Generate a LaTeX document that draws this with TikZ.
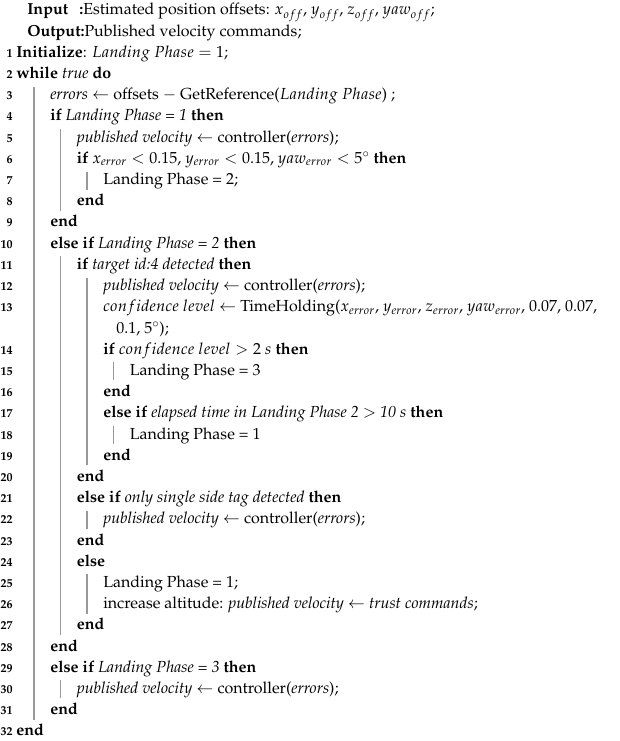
\documentclass[tikz,border=0pt]{standalone}
\usepackage[T1]{fontenc}
\usepackage{mathpazo}
\begin{document}
\begin{tikzpicture}[x=0.75pt,y=-0.75pt,
  txt/.style={anchor=base west,inner sep=0pt,font=\fontsize{12}{14}\selectfont},
  num/.style={anchor=base east,inner sep=0pt,font=\fontsize{9}{10}\selectfont\bfseries},
  bar/.style={draw=gray!80,line width=0.8pt}]
\useasboundingbox (0,0) rectangle (619,741);
\def\Y#1{11+21.2*#1+4}
% header
\node[txt] (in) at (27,{\Y{0}}) {\textbf{Input}};
\node[txt] (inc) at (79,{\Y{0}}) {\textbf{:}Estimated position offsets: $x_{off}$, $y_{off}$, $z_{off}$, $yaw_{off}$;};
\node[txt] (out) at (27,{\Y{1}}) {\textbf{Output:}Published velocity commands;};
% numbered lines: idx, level-x, number, text
\newcommand\AL[4]{\node[num] (n#3) at (13,{\Y{#1}}) {#3};\node[txt] (l#3) at (#2,{\Y{#1}}) {#4};}
\AL{2}{16}{1}{\textbf{Initialize}: $Landing\ Phase = 1$;}
\AL{3}{16}{2}{\textbf{while} \textit{true} \textbf{do}}
\AL{4}{50}{3}{\textit{errors} $\gets$ offsets $-$ GetReference($Landing\ Phase$) ;}
\AL{5}{50}{4}{\textbf{if} \textit{Landing Phase = 1} \textbf{then}}
\AL{6}{76.5}{5}{\textit{published velocity} $\gets$ controller(\textit{errors});}
\AL{7}{76.5}{6}{\textbf{if} $x_{error} < 0.15$, $y_{error} < 0.15$, $yaw_{error} < 5^\circ$ \textbf{then}}
\AL{8}{103}{7}{Landing Phase = 2;}
\AL{9}{76.5}{8}{\textbf{end}}
\AL{10}{50}{9}{\textbf{end}}
\AL{11}{50}{10}{\textbf{else if} \textit{Landing Phase = 2} \textbf{then}}
\AL{12}{76.5}{11}{\textbf{if} \textit{target id:4 detected} \textbf{then}}
\AL{13}{103}{12}{\textit{published velocity} $\gets$ controller(\textit{errors});}
\AL{14}{103}{13}{$confidence\ level$ $\gets$ TimeHolding($x_{error}$, $y_{error}$, $z_{error}$, $yaw_{error}$, 0.07, 0.07,}
\node[txt] (l13b) at (116,{\Y{15}}) {0.1, 5$^\circ$);};
\AL{16}{103}{14}{\textbf{if} $confidence\ level > 2\ s$ \textbf{then}}
\AL{17}{129.5}{15}{Landing Phase = 3}
\AL{18}{103}{16}{\textbf{end}}
\AL{19}{103}{17}{\textbf{else if} \textit{elapsed time in Landing Phase 2 $>$ 10 s} \textbf{then}}
\AL{20}{129.5}{18}{Landing Phase = 1}
\AL{21}{103}{19}{\textbf{end}}
\AL{22}{76.5}{20}{\textbf{end}}
\AL{23}{76.5}{21}{\textbf{else if} \textit{only single side tag detected} \textbf{then}}
\AL{24}{103}{22}{\textit{published velocity} $\gets$ controller(\textit{errors});}
\AL{25}{76.5}{23}{\textbf{end}}
\AL{26}{76.5}{24}{\textbf{else}}
\AL{27}{103}{25}{Landing Phase = 1;}
\AL{28}{103}{26}{increase altitude: \textit{published velocity} $\gets$ \textit{trust commands};}
\AL{29}{76.5}{27}{\textbf{end}}
\AL{30}{50}{28}{\textbf{end}}
\AL{31}{50}{29}{\textbf{else if} \textit{Landing Phase = 3} \textbf{then}}
\AL{32}{76.5}{30}{\textit{published velocity} $\gets$ controller(\textit{errors});}
\AL{33}{50}{31}{\textbf{end}}
\AL{34}{16}{32}{\textbf{end}}
% block bars: x, first idx, last idx
\newcommand\BAR[3]{\draw[bar] (#1,{11+21.2*#2-9}) -- (#1,{11+21.2*#3+9});}
\BAR{34}{4}{33}
\BAR{60.5}{6}{9}
\BAR{87}{8}{8}
\BAR{60.5}{12}{29}
\BAR{87}{13}{21}
\BAR{113.5}{17}{17}
\BAR{113.5}{20}{20}
\BAR{87}{24}{24}
\BAR{87}{27}{28}
\BAR{60.5}{32}{32}
\end{tikzpicture}
\end{document}
